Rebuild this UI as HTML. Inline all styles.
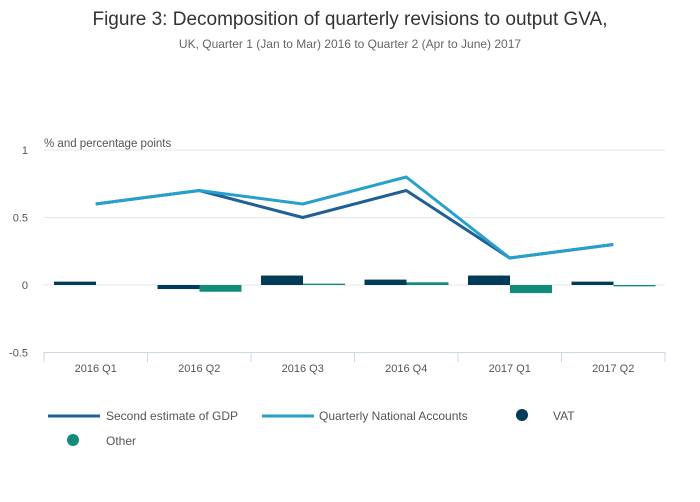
<!DOCTYPE html>
<html><head><meta charset="utf-8"><style>
body{margin:0;background:#fff;font-family:"Liberation Sans",sans-serif;}
</style></head><body>
<svg width="700" height="502" style="display:block">
<text x="350" y="25" text-anchor="middle" font-size="19" fill="#333">Figure 3: Decomposition of quarterly revisions to output GVA,</text>
<text x="350" y="48" text-anchor="middle" font-size="12" fill="#666">UK, Quarter 1 (Jan to Mar) 2016 to Quarter 2 (Apr to June) 2017</text>
<text x="44" y="147" font-size="11.5" fill="#555">% and percentage points</text>
<g id="grid"></g><g id="bars"></g><g id="lines"></g><g id="xaxis"></g>
<g font-size="12" fill="#555">
<line x1="48" y1="416" x2="100" y2="416" stroke="#206095" stroke-width="3"/>
<text x="106" y="420">Second estimate of GDP</text>
<line x1="262" y1="416" x2="314" y2="416" stroke="#27a0cc" stroke-width="3"/>
<text x="319" y="420">Quarterly National Accounts</text>
<circle cx="522" cy="415" r="6" fill="#003c57"/>
<text x="553" y="420">VAT</text>
<circle cx="73" cy="440" r="6" fill="#118c7b"/>
<text x="106" y="445">Other</text>
</g>
</svg>
<script>
const categories=["2016 Q1","2016 Q2","2016 Q3","2016 Q4","2017 Q1","2017 Q2"];
const gdp=[0.6,0.7,0.5,0.7,0.2,0.3];
const qna=[0.6,0.7,0.6,0.8,0.2,0.3];
const vat=[0.025,-0.03,0.07,0.04,0.07,0.025];
const other=[0,-0.05,0.01,0.02,-0.06,-0.01];
const yTicks=[1,0.5,0,-0.5];
const yLabels=["1","0.5","0","-0.5"];
const NS="http://www.w3.org/2000/svg";
const L=44,R=665,cw=(R-L)/categories.length;
const y=v=>285-v*135;
const xc=i=>L+cw*(i+0.5);
function mk(t,a,p){const e=document.createElementNS(NS,t);for(const k in a)e.setAttribute(k,a[k]);document.getElementById(p).appendChild(e);return e;}
yTicks.forEach((t,i)=>{
 const g=mk("line",{x1:L,x2:R,y1:y(t),y2:y(t),stroke:t===-0.5?"#ccd6e6":"#e6e6e6"},"grid");
 
 
 const tx=mk("text",{x:28,y:y(t)+4,"text-anchor":"end","font-size":"11",fill:"#555"},"grid");
 tx.textContent=yLabels[i];
 
 
});
categories.forEach((c,i)=>{
 const x0=L+cw*i;
 const v=vat[i],o=other[i];
 const b1=mk("rect",{x:x0+10,width:42,y:Math.min(y(v),y(0)),height:Math.abs(y(v)-y(0)),fill:"#003c57"},"bars");
 
 
 const b2=mk("rect",{x:x0+52,width:42,y:Math.min(y(o),y(0)),height:Math.abs(y(o)-y(0)),fill:"#118c7b"},"bars");
 
 
 const tk=mk("line",{x1:x0+cw,x2:x0+cw,y1:352,y2:362,stroke:"#ccd6e6"},"xaxis");
 
 
 const tl=mk("text",{x:xc(i),y:372,"text-anchor":"middle","font-size":"11",fill:"#555"},"xaxis");
 tl.textContent=c;
 
 
});
const t0=mk("line",{x1:L,x2:L,y1:352,y2:362,stroke:"#ccd6e6"},"xaxis");


[[gdp,"#206095","line-gdp"],[qna,"#27a0cc","line-qna"]].forEach(([d,col,n])=>{
 const p=mk("polyline",{points:d.map((v,i)=>xc(i)+","+y(v)).join(" "),fill:"none",stroke:col,"stroke-width":3,"stroke-linejoin":"round"},"lines");
 
 
});
</script>
</body></html>
